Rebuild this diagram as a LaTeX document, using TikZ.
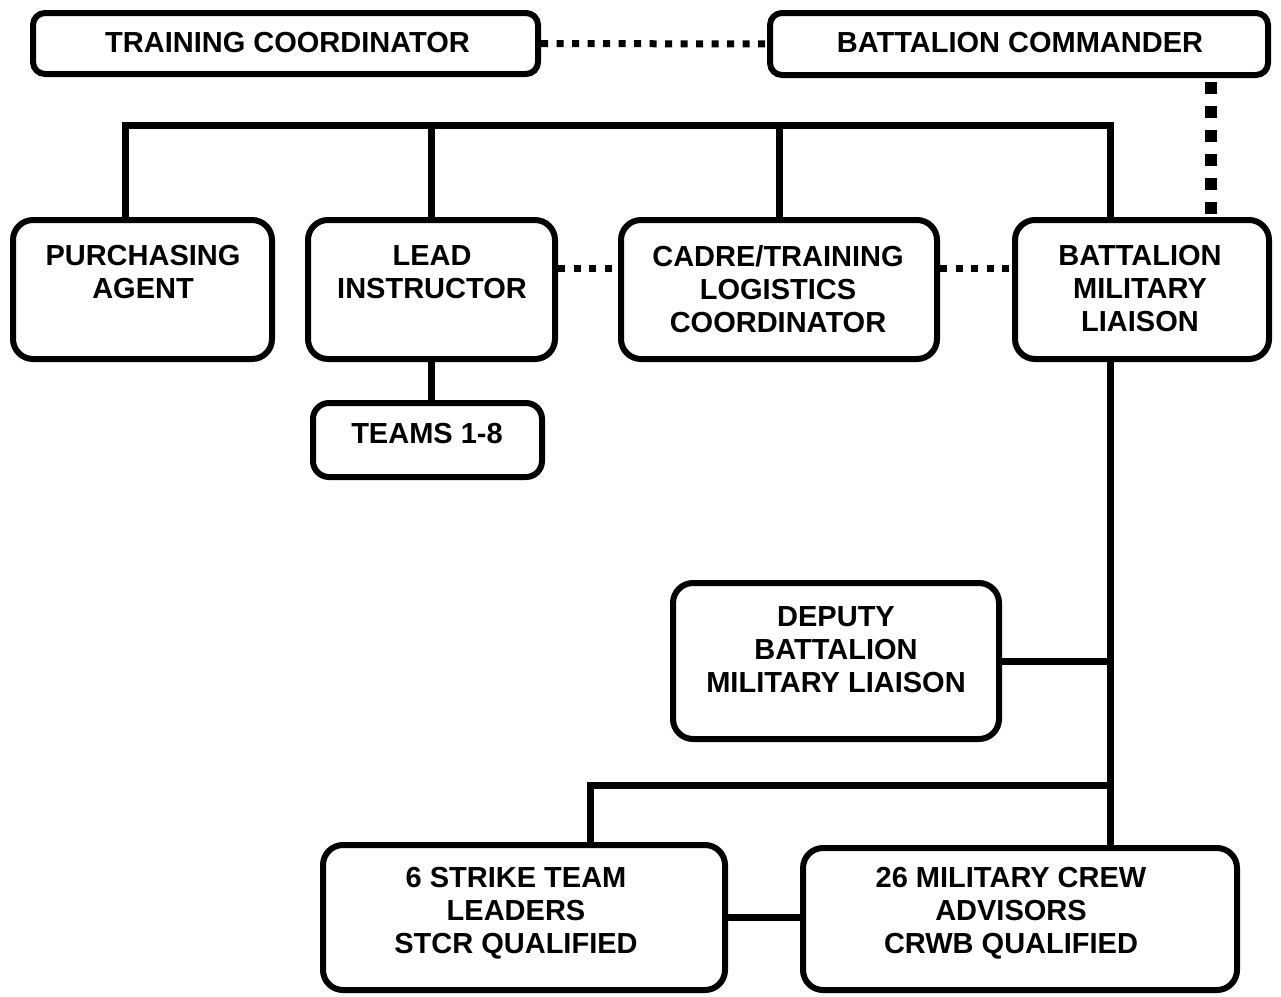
\documentclass[tikz,border=0pt]{standalone}
\usepackage{fontspec}
\setmainfont{Liberation Sans}
\usetikzlibrary{calc}
\begin{document}
\begin{tikzpicture}[x=1pt,y=-1pt,
  orgbox/.style={draw, line width=6pt, rounded corners=20pt, fill=white, inner sep=0pt},
  topbox/.style={orgbox, rounded corners=12pt},
  txt/.style={align=center, inner sep=0pt, font=\fontsize{29}{33}\selectfont\bfseries},
  conn/.style={line width=7pt},
  dotlink/.style={line width=7pt, dash pattern=on 7pt off 8.5pt},
  dotdrop/.style={line width=12pt, dash pattern=on 12pt off 12pt}]
\useasboundingbox (0,0) rectangle (1281,996);

% top level
\node[topbox, minimum width=505pt, minimum height=61pt] (tc) at (285.5,43.5) {};
\node[topbox, minimum width=498pt, minimum height=62pt] (bc) at (1019,44) {};
\node[txt] (tct) at (287.5,42.5) {TRAINING COORDINATOR};
\node[txt] (bct) at (1020,42.5) {BATTALION COMMANDER};

% second row
\node[orgbox, minimum width=259pt, minimum height=139pt] (pa) at (142.5,289.5) {};
\node[orgbox, minimum width=247pt, minimum height=139pt] (li) at (431.5,289.5) {};
\node[orgbox, minimum width=316pt, minimum height=139pt] (cl) at (779,289.5) {};
\node[orgbox, minimum width=254pt, minimum height=139pt] (bml) at (1142,289.5) {};
\node[txt] (pat) at (143,272.5) {PURCHASING\\AGENT};
\node[txt] (lit) at (432,272.5) {LEAD\\INSTRUCTOR};
\node[txt] (clt) at (778,289) {CADRE/TRAINING\\LOGISTICS\\COORDINATOR};
\node[txt] (bmlt) at (1140,289) {BATTALION\\MILITARY\\LIAISON};

% teams
\node[orgbox, rounded corners=16pt, minimum width=229pt, minimum height=74pt] (teams) at (427.5,440) {};
\node[txt] (teamst) at (427,433.5) {TEAMS 1-8};

% deputy
\node[orgbox, minimum width=326pt, minimum height=156pt] (dep) at (836,661) {};
\node[txt] (dept) at (836,650) {DEPUTY\\BATTALION\\MILITARY LIAISON};

% bottom row
\node[orgbox, minimum width=402pt, minimum height=145pt] (stl) at (524,917.5) {};
\node[orgbox, minimum width=434pt, minimum height=142pt] (mca) at (1020,919) {};
\node[txt] (stlt) at (516,913) {6 STRIKE TEAM\\LEADERS\\STCR QUALIFIED};
\node[txt] (mcat) at (1011,913) {26 MILITARY CREW\\ADVISORS\\CRWB QUALIFIED};

% routing points
\coordinate (busL) at (125,125);
\coordinate (busR) at (1110,125);
\coordinate (cmdDrop) at (1211,0);
\coordinate (dotrow) at (0,268);
\coordinate (split) at (1110,785);
\coordinate (stlDrop) at (590,785);

% solid reporting lines
\draw[conn] (pa.north -| busL) -- (busL) -- (busR) -- (bml.north -| busR);
\draw[conn] (li.north) -- (li.north |- busL);
\draw[conn] (cl.north) -- (cl.north |- busL);
\draw[conn] (li.south) -- (li.south |- teams.north);
\draw[conn] (bml.south -| busR) -- (mca.north -| busR);
\draw[conn] (dep.east) -- (dep.east -| busR);
\draw[conn] (split) -- (stlDrop) -- (stl.north -| stlDrop);
\draw[conn] (stl.east) -- (stl.east -| mca.west);

% coordination lines
\draw[dotlink] (tc.east) -- (bc.west);
\draw[dotdrop] ($(bc.south -| cmdDrop)+(0,4)$) -- ($(bml.north -| cmdDrop)+(0,-3)$);
\draw[dotlink] (li.east |- dotrow) -- (cl.west |- dotrow);
\draw[dotlink] (cl.east |- dotrow) -- (bml.west |- dotrow);
\end{tikzpicture}
\end{document}
